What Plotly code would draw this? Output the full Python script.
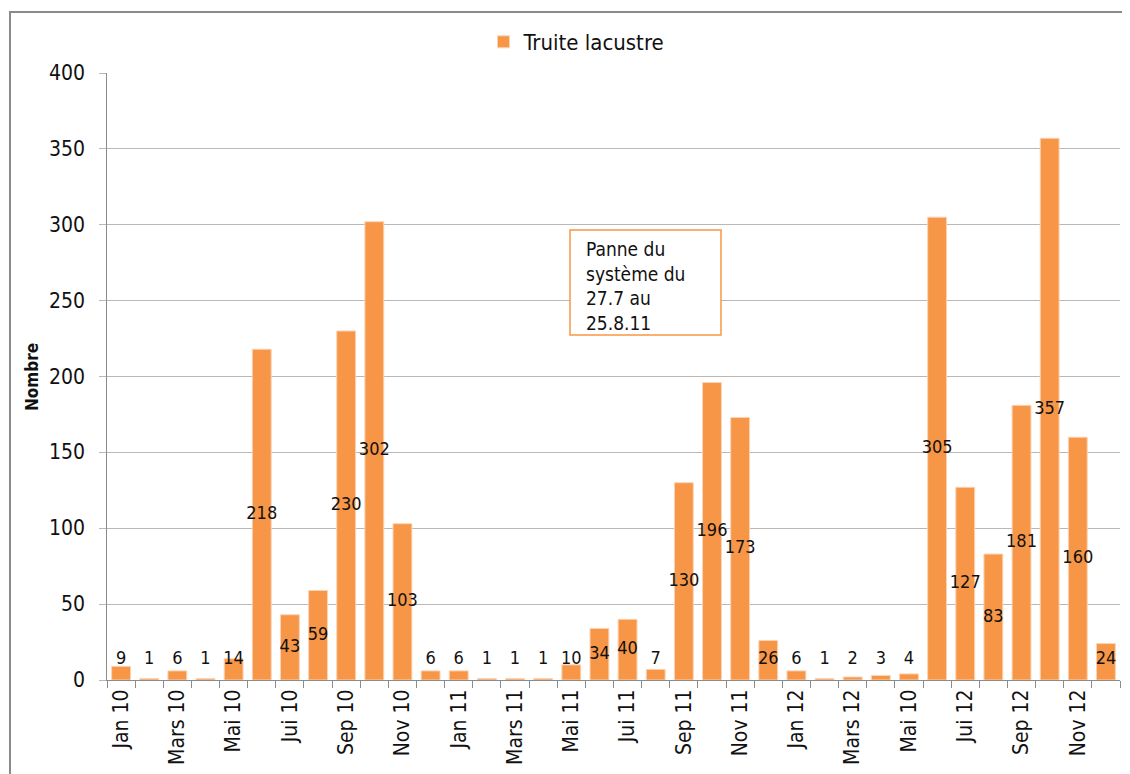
import plotly.graph_objects as go

months = [f"{y}-{m:02d}" for y in (2010, 2011, 2012) for m in range(1, 13)]
tick_labels = [
    "Jan 10", "", "Mars 10", "", "Mai 10", "", "Jui 10", "", "Sep 10", "", "Nov 10", "",
    "Jan 11", "", "Mars 11", "", "Mai 11", "", "Jui 11", "", "Sep 11", "", "Nov 11", "",
    "Jan 12", "", "Mars 12", "", "Mai 10", "", "Jui 12", "", "Sep 12", "", "Nov 12", "",
]
values = [9, 1, 6, 1, 14, 218, 43, 59, 230, 302, 103, 6,
          6, 1, 1, 1, 10, 34, 40, 7, 130, 196, 173, 26,
          6, 1, 2, 3, 4, 305, 127, 83, 181, 357, 160, 24]
y_ticks = [0, 50, 100, 150, 200, 250, 300, 350, 400]
series_name = "Truite lacustre"
y_title = "Nombre"
note = "Panne du<br>système du<br>27.7 au<br>25.8.11"

ORANGE = "#f79646"
FONT = "DejaVu Sans Condensed"
TXT = "#111111"

fig = go.Figure()
fig.add_trace(go.Bar(
    x=months, y=values, name=series_name,
    marker=dict(color=ORANGE, line=dict(color="#fbd3b5", width=1)),
    width=0.67, showlegend=True,
))
label_y = [max(v / 2, 13.5) for v in values]
fig.add_trace(go.Scatter(
    x=months, y=label_y, mode="text", text=[str(v) for v in values],
    textposition="middle center", textfont=dict(family=FONT, size=18, color=TXT),
    showlegend=False, hoverinfo="skip",
))

# page body has an 8px margin; the plot area spans page x 107..1120, y 73..680
W, H = 1122, 766
L, R, T, B = 99, 10, 65, 94
X0, X1, Y0, Y1 = 107, 1120, 73, 680

def px(x):
    return (x - X0) / (X1 - X0)

def py(y):
    return (Y1 - y) / (Y1 - Y0)

tick_annotations = [
    dict(text=str(t), xref="paper", yref="y", x=px(87), y=t, xanchor="right",
         yanchor="middle", showarrow=False, font=dict(family=FONT, size=21, color=TXT))
    for t in y_ticks
]

fig.update_layout(
    width=W, height=H,
    margin=dict(l=L, r=R, t=T, b=B),
    paper_bgcolor="white", plot_bgcolor="white",
    font=dict(family=FONT, size=18, color=TXT),
    bargap=0.33,
    legend=dict(x=px(577), y=py(42), xanchor="center", yanchor="middle",
                orientation="h", font=dict(size=22, color=TXT), itemwidth=30,
                bgcolor="rgba(0,0,0,0)"),
    xaxis=dict(
        type="category", tickmode="array", tickvals=months, ticktext=tick_labels,
        tickangle=-90, tickson="boundaries", ticks="outside", ticklen=7,
        tickcolor="#8c8c8c", showline=True, linecolor="#8c8c8c", linewidth=1,
        showgrid=False, tickfont=dict(size=21, color=TXT), automargin=False,
        range=[-0.5, 35.5],
    ),
    yaxis=dict(
        range=[0, 400], tickmode="array", tickvals=y_ticks, showgrid=True,
        gridcolor="#b8b8b8", gridwidth=1, showline=True, linecolor="#8c8c8c",
        linewidth=1, ticks="outside", ticklen=7, tickcolor="#b8b8b8",
        showticklabels=False, zeroline=False, automargin=False,
    ),
    shapes=[
        dict(type="rect", xref="paper", yref="paper",
             x0=px(10), x1=px(1150), y0=py(800), y1=py(12),
             line=dict(color="#8a8a8a", width=2), fillcolor="rgba(0,0,0,0)",
             layer="below"),
        dict(type="rect", xref="paper", yref="paper",
             x0=px(570), x1=px(721), y0=py(335), y1=py(230),
             line=dict(color=ORANGE, width=1.5), fillcolor="white", layer="above"),
    ],
    annotations=tick_annotations + [
        dict(text=note, xref="paper", yref="paper", x=px(584), y=py(236),
             xanchor="left", yanchor="top", align="left", showarrow=False,
             font=dict(family=FONT, size=19, color=TXT)),
        dict(text=f"<b>{y_title}</b>", xref="paper", yref="paper", x=px(32), y=py(377),
             xanchor="center", yanchor="middle", textangle=-90, showarrow=False,
             font=dict(family=FONT, size=17, color=TXT)),
    ],
)

fig.write_html("out.html")
